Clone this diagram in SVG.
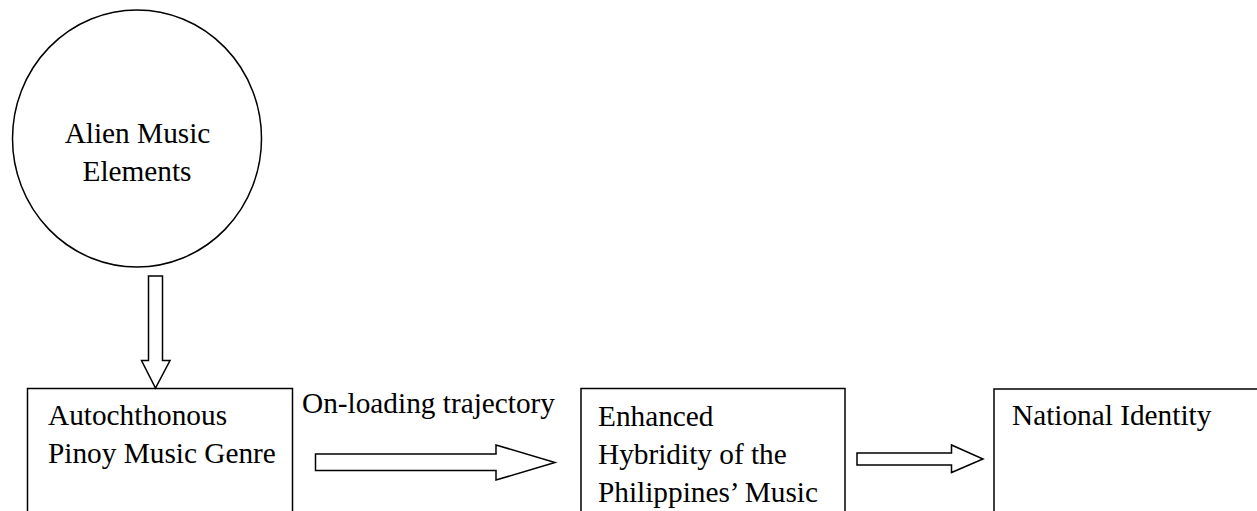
<svg xmlns="http://www.w3.org/2000/svg" width="1257" height="511" viewBox="0 0 1257 511">
<style>
.shape{fill:#fff;stroke:#000;stroke-width:1.5}
text{font-family:'Liberation Serif','Times New Roman',Times,serif;font-size:29.3px;fill:#000}
</style>
<rect width="1257" height="511" fill="#fff"/>
<g id="alien">
<ellipse class="shape" cx="137" cy="138.5" rx="124.5" ry="128.5"/>
<text x="137.5" y="143" text-anchor="middle">Alien Music</text>
<text x="137" y="181" text-anchor="middle">Elements</text>
</g>
<g id="autochthonous">
<rect class="shape" x="27.5" y="388.5" width="265" height="140"/>
<text x="48" y="425">Autochthonous</text>
<text x="48" y="463">Pinoy Music Genre</text>
</g>
<g id="hybridity">
<rect class="shape" x="581" y="388.5" width="264" height="140"/>
<text x="598" y="426">Enhanced</text>
<text x="598" y="464">Hybridity of the</text>
<text x="598" y="502">Philippines’ Music</text>
</g>
<g id="identity">
<rect class="shape" x="994" y="389" width="280" height="140"/>
<text x="1012" y="425">National Identity</text>
</g>
<g id="connectors">
<polygon class="shape" points="148.5,276 162.5,276 162.5,360.5 170,360.5 155.5,388 141.5,360.5 148.5,360.5"/>
<polygon class="shape" points="315.5,454 496,454 496,445 555,462.5 496,480 496,470.5 315.5,470.5"/>
<text x="302" y="413">On-loading trajectory</text>
<polygon class="shape" points="857,453 951.5,453 951.5,445 983,459 951.5,472.5 951.5,465 857,465"/>
</g>
</svg>
